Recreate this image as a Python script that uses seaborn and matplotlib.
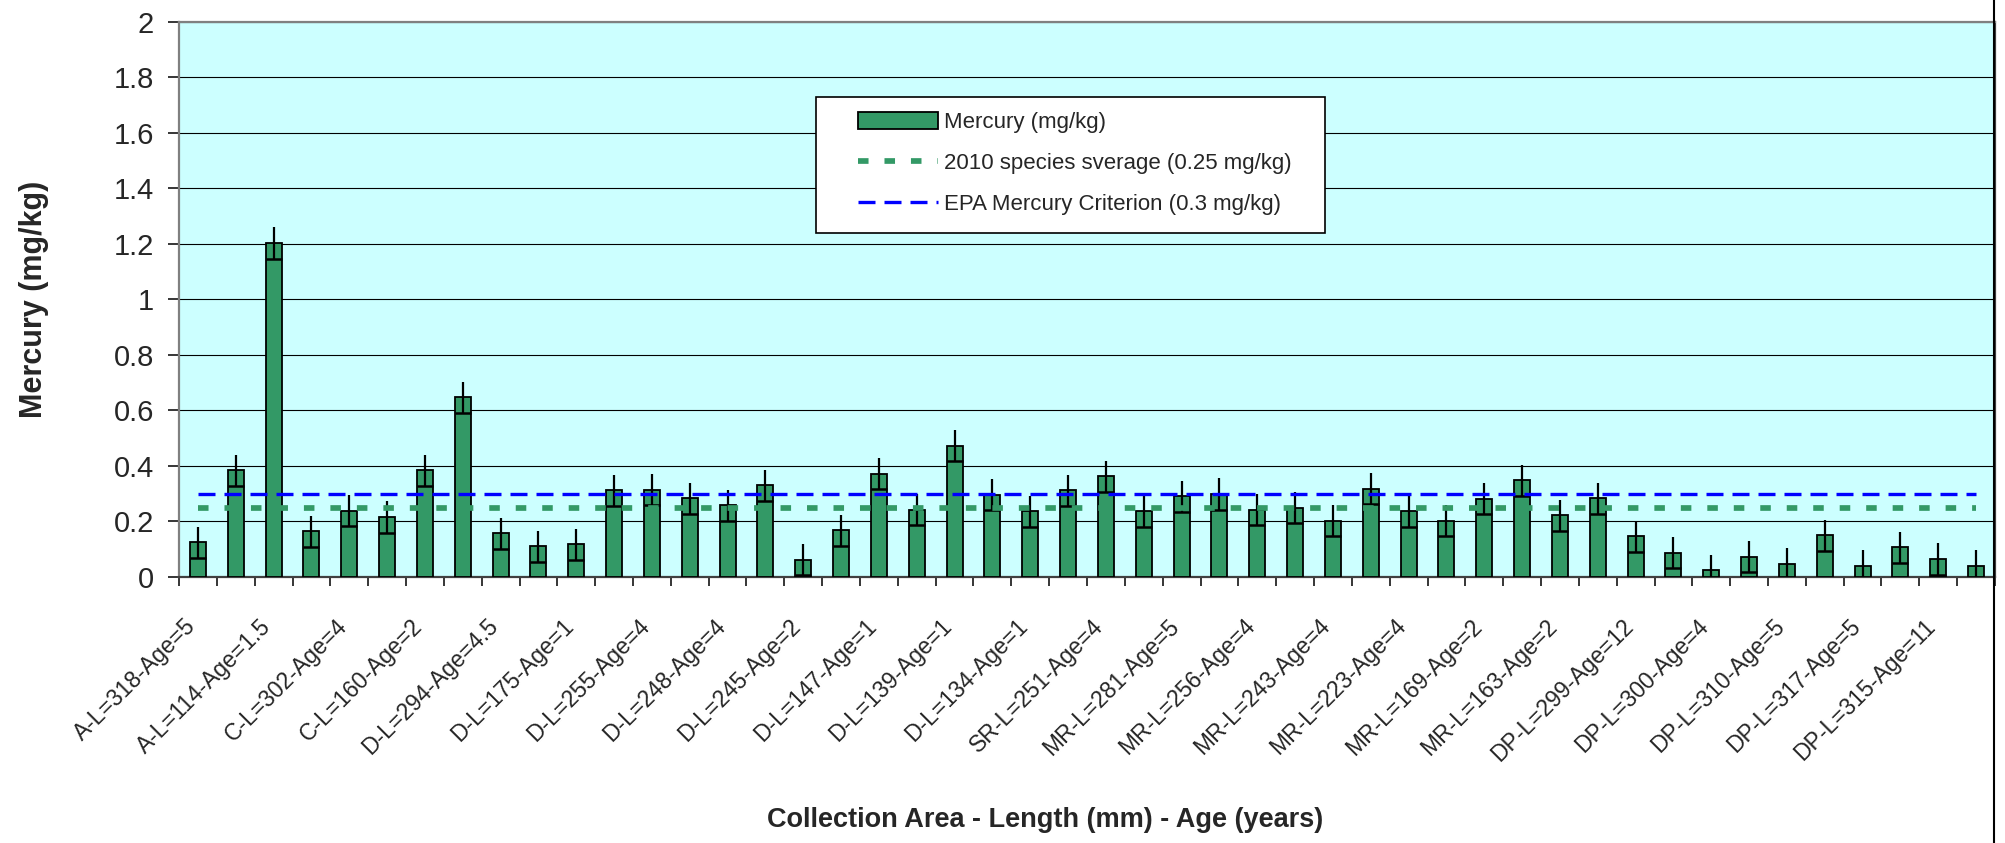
import numpy as np
import pandas as pd
import seaborn as sns
import matplotlib.pyplot as plt
from matplotlib.lines import Line2D
from matplotlib.patches import Rectangle
from matplotlib.transforms import ScaledTranslation

# Mercury per fish (mg/kg), 48 fish
mercury = [0.125, 0.384, 1.203, 0.164, 0.238, 0.216, 0.385, 0.648, 0.157, 0.110,
           0.118, 0.312, 0.315, 0.284, 0.259, 0.330, 0.063, 0.168, 0.372, 0.242,
           0.473, 0.297, 0.237, 0.312, 0.363, 0.237, 0.290, 0.299, 0.242, 0.250,
           0.202, 0.318, 0.237, 0.202, 0.282, 0.348, 0.223, 0.284, 0.146, 0.087,
           0.025, 0.073, 0.048, 0.151, 0.041, 0.107, 0.065, 0.041]
error_margin = 0.056          # fixed-value error bar
species_average = 0.25        # 2010 species average
epa_criterion = 0.3           # EPA mercury criterion

# only every other fish is labelled on the axis
tick_labels = ['A-L=318-Age=5', 'A-L=114-Age=1.5', 'C-L=302-Age=4', 'C-L=160-Age=2',
               'D-L=294-Age=4.5', 'D-L=175-Age=1', 'D-L=255-Age=4', 'D-L=248-Age=4',
               'D-L=245-Age=2', 'D-L=147-Age=1', 'D-L=139-Age=1', 'D-L=134-Age=1',
               'SR-L=251-Age=4', 'MR-L=281-Age=5', 'MR-L=256-Age=4', 'MR-L=243-Age=4',
               'MR-L=223-Age=4', 'MR-L=169-Age=2', 'MR-L=163-Age=2', 'DP-L=299-Age=12',
               'DP-L=300-Age=4', 'DP-L=310-Age=5', 'DP-L=317-Age=5', 'DP-L=315-Age=11']

df = pd.DataFrame({'fish': range(len(mercury)), 'mercury': mercury})
df['average'] = species_average
df['criterion'] = epa_criterion

sns.set_style('ticks')
plt.rcParams['font.family'] = ['Liberation Sans', 'DejaVu Sans']

fig = plt.figure(figsize=(20.05, 8.43), dpi=100)
ax = fig.add_axes([179 / 2005, 1 - 577 / 843, 1816 / 2005, 555.3 / 843])
ax.set_facecolor('#CCFFFF')

sns.barplot(data=df, x='fish', y='mercury', color='#339966', width=0.42,
            edgecolor='black', linewidth=1.3, saturation=1, errorbar=None,
            label='Mercury (mg/kg)', ax=ax, zorder=3)

ax.errorbar(df['fish'], df['mercury'], yerr=error_margin, fmt='none', ecolor='black',
            elinewidth=1.6, capsize=0, zorder=4, label='_nolegend_')
ax.plot(df['fish'], df['mercury'] - error_margin, ls='none', marker='_', ms=11,
        mew=1.8, color='black', zorder=4)

sns.lineplot(data=df, x='fish', y='average', color='#339966', lw=4.1,
             label='2010 species sverage (0.25 mg/kg)', ax=ax, zorder=5)
sns.lineplot(data=df, x='fish', y='criterion', color='#0000FF', lw=2.4,
             label='EPA Mercury Criterion (0.3 mg/kg)', ax=ax, zorder=5)
ax.lines[-2].set_dashes((1.85, 2.8))
ax.lines[-1].set_dashes((5.1, 2.7))
ax.lines[-2].set_dash_capstyle('butt')

ax.set_xlim(-0.5, len(mercury) - 0.5)
ax.set_ylim(0, 2)
yt = np.arange(0, 2.01, 0.2)
ax.set_yticks(yt, [f'{v:g}' for v in yt], fontsize=21)
ax.yaxis.grid(True, color='black', lw=0.8)
ax.set_axisbelow(True)
ax.tick_params(axis='y', length=8, width=1.1, pad=10, color='black')

ax.set_xticks(range(0, len(mercury), 2), tick_labels, fontsize=16.5, rotation=45,
              ha='right', va='center', rotation_mode='anchor')
ax.set_xticks(np.arange(-0.5, len(mercury), 1), minor=True)
ax.tick_params(axis='x', which='major', length=0, pad=33)
ax.tick_params(axis='x', which='minor', length=6.5, width=1.1, color='black')
shift = ScaledTranslation(-6 / 100, 0, fig.dpi_scale_trans)
for lab in ax.get_xticklabels():
    lab.set_transform(lab.get_transform() + shift)

ax.set_xlabel('Collection Area - Length (mm) - Age (years)', fontsize=19.5, fontweight='bold')
ax.xaxis.set_label_coords(0.477, -0.415)
ax.set_ylabel('Mercury (mg/kg)', fontsize=22, fontweight='bold')
ax.yaxis.set_label_coords(-0.0716, 0.5)

for side in ['left', 'top']:
    ax.spines[side].set_color('#808080')
    ax.spines[side].set_linewidth(1.6)
ax.spines['right'].set_color('#404040')
ax.spines['right'].set_linewidth(1.6)
ax.spines['bottom'].set_color('#404040')
ax.spines['bottom'].set_linewidth(1.6)

# legend box
ax.add_patch(Rectangle((0.3508, 0.6195), 0.2803, 0.2449, transform=ax.transAxes,
                       facecolor='white', edgecolor='black', lw=1.2, zorder=6))
handles, labels = ax.get_legend_handles_labels()
order = [labels.index('Mercury (mg/kg)'),
         labels.index('2010 species sverage (0.25 mg/kg)'),
         labels.index('EPA Mercury Criterion (0.3 mg/kg)')]
leg = ax.legend([handles[i] for i in order], [labels[i] for i in order],
                loc='upper left', bbox_to_anchor=(0.368, 0.857),
                frameon=False, fontsize=16, borderpad=0, handlelength=3.6,
                handleheight=0.77, handletextpad=0.25, labelspacing=0.9)
leg.set_zorder(7)

fig.add_artist(Line2D([1994 / 2005, 1994 / 2005], [0, 1], color='black', lw=1.5))

plt.savefig('out.png', dpi=100)
